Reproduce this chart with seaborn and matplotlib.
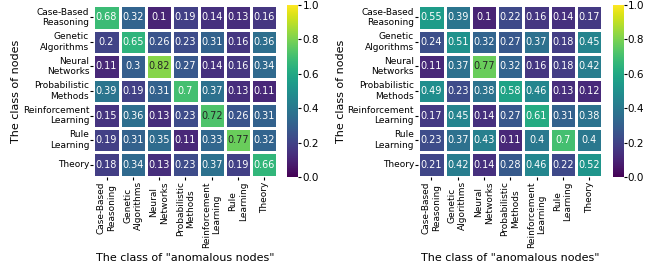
import numpy as np
import pandas as pd
import matplotlib
matplotlib.use("Agg")
import matplotlib.pyplot as plt
import seaborn as sns

classes = ["Case-Based\nReasoning", "Genetic\nAlgorithms", "Neural\nNetworks",
           "Probabilistic\nMethods", "Reinforcement\nLearning", "Rule\nLearning", "Theory"]

left_vals = [
    [0.68, 0.32, 0.10, 0.19, 0.14, 0.13, 0.16],
    [0.20, 0.65, 0.26, 0.23, 0.31, 0.16, 0.36],
    [0.11, 0.30, 0.82, 0.27, 0.14, 0.16, 0.34],
    [0.39, 0.19, 0.31, 0.70, 0.37, 0.13, 0.11],
    [0.15, 0.36, 0.13, 0.23, 0.72, 0.26, 0.31],
    [0.19, 0.31, 0.35, 0.11, 0.33, 0.77, 0.32],
    [0.18, 0.34, 0.13, 0.23, 0.37, 0.19, 0.66],
]

right_vals = [
    [0.55, 0.39, 0.10, 0.22, 0.16, 0.14, 0.17],
    [0.24, 0.51, 0.32, 0.27, 0.37, 0.18, 0.45],
    [0.11, 0.37, 0.77, 0.32, 0.16, 0.18, 0.42],
    [0.49, 0.23, 0.38, 0.58, 0.46, 0.13, 0.12],
    [0.17, 0.45, 0.14, 0.27, 0.61, 0.31, 0.38],
    [0.23, 0.37, 0.43, 0.11, 0.40, 0.70, 0.40],
    [0.21, 0.42, 0.14, 0.28, 0.46, 0.22, 0.52],
]

fig = plt.figure(figsize=(6.67, 2.67), dpi=100)

panels = [
    (left_vals, [0.140, 0.337, 0.276, 0.644], [0.431, 0.337, 0.016, 0.644]),
    (right_vals, [0.627, 0.337, 0.276, 0.644], [0.919, 0.337, 0.016, 0.644]),
]

for vals, ax_pos, cb_pos in panels:
    ax = fig.add_axes(ax_pos)
    cax = fig.add_axes(cb_pos)
    df = pd.DataFrame(vals, index=classes, columns=classes)
    sns.heatmap(df, ax=ax, cbar_ax=cax, cmap="viridis", vmin=0, vmax=1,
                annot=True, annot_kws={"size": 7}, linewidths=1, linecolor="white")
    ax.set_xlabel('The class of "anomalous nodes"', fontsize=8)
    ax.set_ylabel("The class of nodes", fontsize=8, labelpad=1)
    ax.tick_params(axis="both", labelsize=6.5, length=2, pad=1)
    ax.set_xticklabels(classes, rotation=90, fontsize=6.5)
    ax.set_yticklabels(classes, rotation=0, fontsize=6.5)
    cax.tick_params(labelsize=7.5, length=2, pad=1)
    cax.set_yticks([0, 0.2, 0.4, 0.6, 0.8, 1.0])

fig.savefig("out.png", dpi=100)
